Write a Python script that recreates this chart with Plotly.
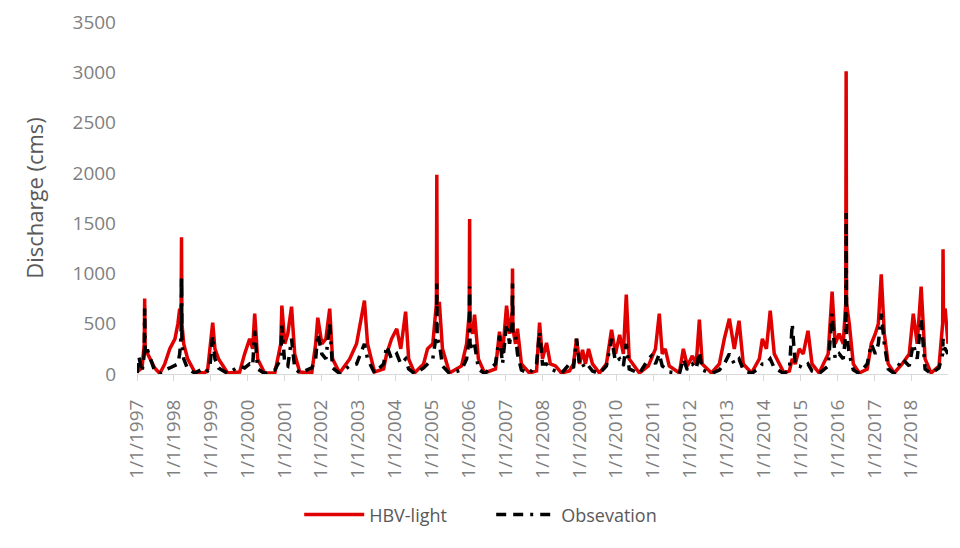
import plotly.graph_objects as go

dates = [
    "1997-01-01", "1997-01-20", "1997-02-20", "1997-03-14", "1997-03-18", "1997-03-23", "1997-04-18", "1997-06-25", "1997-08-15",
    "1997-10-03", "1997-11-21", "1998-01-12", "1998-02-10", "1998-02-28", "1998-03-14", "1998-03-18", "1998-03-22",
    "1998-04-09", "1998-05-18", "1998-07-27", "1998-11-03", "1998-12-03", "1998-12-22", "1999-01-21", "1999-02-12",
    "1999-03-20", "1999-06-18", "1999-10-15", "1999-12-03", "2000-01-22", "2000-02-21", "2000-03-12", "2000-04-10",
    "2000-06-18", "2000-09-27", "2000-11-25", "2000-12-06", "2001-01-04", "2001-02-03", "2001-03-12", "2001-04-12",
    "2001-06-01", "2001-09-28", "2001-11-06", "2001-11-27", "2002-01-06", "2002-02-15", "2002-03-25", "2002-04-22",
    "2002-07-01", "2002-10-09", "2002-12-16", "2003-03-04", "2003-04-04", "2003-06-12", "2003-09-10", "2003-10-10",
    "2003-11-28", "2004-01-18", "2004-02-27", "2004-04-15", "2004-05-15", "2004-07-12", "2004-10-10", "2004-11-18",
    "2005-01-09", "2005-02-14", "2005-02-18", "2005-02-22", "2005-03-16", "2005-04-15", "2005-06-24", "2005-10-21",
    "2005-12-10", "2006-01-05", "2006-01-09", "2006-01-13", "2006-02-08", "2006-02-27", "2006-04-06", "2006-06-06",
    "2006-09-22", "2006-11-01", "2006-12-01", "2007-01-10", "2007-02-09", "2007-03-06", "2007-03-10", "2007-03-14",
    "2007-04-09", "2007-04-28", "2007-06-06", "2007-08-24", "2007-11-03", "2007-12-03", "2008-01-01", "2008-02-10",
    "2008-03-19", "2008-05-09", "2008-07-06", "2008-09-24", "2008-11-03", "2008-12-03", "2009-01-03", "2009-02-01",
    "2009-03-01", "2009-04-01", "2009-05-10", "2009-07-18", "2009-09-25", "2009-11-15", "2009-12-24", "2010-02-03",
    "2010-03-12", "2010-04-10", "2010-05-09", "2010-08-18", "2010-11-15", "2010-12-15", "2011-01-24", "2011-03-03",
    "2011-04-01", "2011-05-01", "2011-06-09", "2011-09-18", "2011-10-27", "2011-12-06", "2012-01-25", "2012-03-03",
    "2012-04-03", "2012-05-01", "2012-08-01", "2012-10-18", "2012-12-06", "2013-01-25", "2013-03-15", "2013-05-01",
    "2013-06-12", "2013-09-01", "2013-11-18", "2013-12-18", "2014-01-27", "2014-03-06", "2014-04-15", "2014-07-21",
    "2014-09-12", "2014-10-10", "2014-11-09", "2014-12-18", "2015-01-27", "2015-03-15", "2015-04-24", "2015-07-03",
    "2015-10-01", "2015-11-09", "2015-12-09", "2016-01-18", "2016-02-27", "2016-03-23", "2016-03-27", "2016-03-31",
    "2016-04-27", "2016-06-06", "2016-08-04", "2016-10-22", "2016-12-01", "2017-01-10", "2017-02-09", "2017-03-10",
    "2017-04-09", "2017-05-18", "2017-07-16", "2017-10-03", "2017-12-12", "2018-01-21", "2018-03-01", "2018-04-09",
    "2018-05-18", "2018-07-16", "2018-10-03", "2018-11-08", "2018-11-12", "2018-11-16", "2018-12-03", "2018-12-31",
]

hbv_light = [
    20, 40, 60, 300, 750, 250, 200, 60, 5,
    100, 250, 350, 500, 650, 600, 1360, 500,
    300, 150, 20, 10, 50, 230, 510, 250,
    150, 10, 20, 200, 350, 250, 600, 150,
    10, 10, 300, 680, 300, 400, 670, 200,
    20, 10, 300, 560, 300, 350, 650, 150,
    10, 150, 300, 730, 300, 20, 50, 200,
    350, 450, 250, 620, 150, 10, 100, 250,
    300, 700, 1980, 700, 700, 250, 10, 80,
    300, 600, 1540, 500, 400, 590, 150, 10,
    50, 420, 200, 680, 400, 600, 1050, 450,
    300, 450, 100, 10, 30, 510, 150, 310,
    100, 80, 10, 30, 100, 350, 100, 240,
    100, 250, 100, 10, 100, 440, 200, 390,
    200, 790, 150, 10, 80, 150, 250, 600,
    200, 250, 80, 10, 250, 80, 180, 100,
    540, 100, 10, 100, 350, 550, 250, 530,
    100, 10, 150, 350, 250, 630, 200, 10,
    30, 150, 100, 250, 200, 430, 100, 10,
    200, 820, 300, 400, 300, 700, 3010, 700,
    500, 100, 10, 50, 300, 400, 500, 990,
    400, 100, 10, 100, 200, 600, 300, 870,
    150, 10, 80, 500, 1240, 600, 650, 300,
]

observation = [
    10, 170, 20, 200, 650, 230, 230, 30, 5,
    40, 60, 80, 100, 200, 400, 950, 300,
    150, 50, 10, 60, 30, 50, 380, 150,
    60, 5, 80, 60, 100, 80, 430, 50,
    5, 40, 150, 480, 100, 80, 350, 60,
    10, 60, 150, 400, 200, 150, 500, 60,
    5, 80, 100, 300, 150, 10, 100, 280,
    150, 200, 100, 150, 50, 5, 60, 100,
    150, 400, 900, 350, 300, 80, 5, 40,
    150, 350, 870, 300, 250, 300, 50, 5,
    100, 380, 100, 500, 300, 500, 900, 400,
    400, 200, 40, 5, 100, 420, 100, 100,
    50, 30, 5, 100, 60, 350, 80, 100,
    50, 80, 30, 5, 80, 350, 120, 150,
    80, 300, 50, 5, 150, 180, 100, 200,
    80, 60, 20, 5, 150, 40, 100, 50,
    220, 40, 5, 40, 100, 200, 100, 150,
    40, 5, 60, 100, 100, 150, 60, 5,
    50, 500, 80, 80, 60, 100, 30, 5,
    80, 600, 150, 200, 150, 400, 1600, 400,
    200, 40, 5, 100, 300, 200, 300, 600,
    300, 50, 5, 150, 80, 300, 150, 550,
    50, 5, 60, 200, 350, 250, 250, 200,
]

tick_years = list(range(1997, 2019))
tick_vals = [f"{y}-01-01" for y in tick_years]
tick_text = [f"1/1/{y}" for y in tick_years]

fig = go.Figure()
fig.add_trace(go.Scatter(
    x=dates, y=hbv_light, mode="lines", name="HBV-light",
    line=dict(color="#e00000", width=3.5),
))
fig.add_trace(go.Scatter(
    x=dates, y=observation, mode="lines", name="Obsevation",
    line=dict(color="#000000", width=3.5, dash="10px,7px,10px,7px,3px,7px"),
))

grey = "#7f7f7f"
fig.update_layout(
    width=960, height=548,
    margin=dict(l=129, r=20, t=14, b=182, autoexpand=False),
    paper_bgcolor="white", plot_bgcolor="white",
    font=dict(family="Open Sans, Noto Sans, sans-serif", color=grey),
    showlegend=True,
    legend=dict(orientation="h", x=0.2, xanchor="left", y=-0.40, yanchor="middle",
                font=dict(size=18, color="#595959"), itemwidth=60, tracegroupgap=0,
                entrywidth=117, entrywidthmode="pixels"),
    xaxis=dict(
        type="date", range=["1997-01-01", "2018-12-31"],
        tickmode="array", tickvals=tick_vals, ticktext=tick_text,
        tickangle=-90, tickfont=dict(size=19, color=grey),
        showgrid=False, zeroline=False, automargin=False,
        showline=True, linecolor="#d9d9d9", linewidth=1,
        ticks="outside", ticklen=6, tickcolor="#d9d9d9",
        ticklabelstandoff=11,
    ),
    yaxis=dict(
        range=[0, 3500], tickmode="array", tickvals=[0, 500, 1000, 1500, 2000, 2500, 3000, 3500],
        tickfont=dict(size=19, color=grey), showgrid=False, zeroline=False, showline=False,
        ticklabelstandoff=20, automargin=False,
        title=dict(text="Discharge (cms)", font=dict(size=22, color="#595959"), standoff=22),
    ),
)

fig.write_html("out.html")
